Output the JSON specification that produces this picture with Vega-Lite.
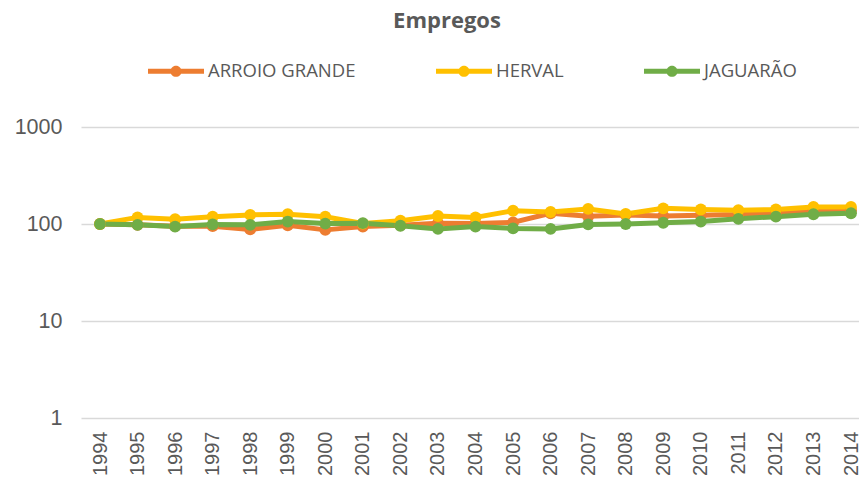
{
  "$schema": "https://vega.github.io/schema/vega-lite/v6.json",
  "width": 778,
  "height": 291,
  "autosize": {"type": "none"},
  "padding": {"left": 81, "top": 127, "right": 0, "bottom": 66},
  "background": "white",
  "title": {
    "text": "Empregos",
    "font": "Open Sans",
    "fontSize": 22,
    "fontWeight": "bold",
    "color": "#595959",
    "anchor": "middle",
    "dx": -23,
    "offset": 10
  },
  "config": {
    "view": {"stroke": null},
    "font": "Liberation Sans"
  },
  "data": {
    "values": [
      {"ano": 1994, "municipio": "ARROIO GRANDE", "empregos": 100},
      {"ano": 1995, "municipio": "ARROIO GRANDE", "empregos": 98},
      {"ano": 1996, "municipio": "ARROIO GRANDE", "empregos": 95},
      {"ano": 1997, "municipio": "ARROIO GRANDE", "empregos": 95},
      {"ano": 1998, "municipio": "ARROIO GRANDE", "empregos": 88},
      {"ano": 1999, "municipio": "ARROIO GRANDE", "empregos": 97},
      {"ano": 2000, "municipio": "ARROIO GRANDE", "empregos": 87},
      {"ano": 2001, "municipio": "ARROIO GRANDE", "empregos": 94},
      {"ano": 2002, "municipio": "ARROIO GRANDE", "empregos": 97},
      {"ano": 2003, "municipio": "ARROIO GRANDE", "empregos": 102},
      {"ano": 2004, "municipio": "ARROIO GRANDE", "empregos": 101},
      {"ano": 2005, "municipio": "ARROIO GRANDE", "empregos": 104},
      {"ano": 2006, "municipio": "ARROIO GRANDE", "empregos": 129},
      {"ano": 2007, "municipio": "ARROIO GRANDE", "empregos": 120},
      {"ano": 2008, "municipio": "ARROIO GRANDE", "empregos": 124},
      {"ano": 2009, "municipio": "ARROIO GRANDE", "empregos": 121},
      {"ano": 2010, "municipio": "ARROIO GRANDE", "empregos": 123},
      {"ano": 2011, "municipio": "ARROIO GRANDE", "empregos": 125},
      {"ano": 2012, "municipio": "ARROIO GRANDE", "empregos": 130},
      {"ano": 2013, "municipio": "ARROIO GRANDE", "empregos": 135},
      {"ano": 2014, "municipio": "ARROIO GRANDE", "empregos": 138},
      {"ano": 1994, "municipio": "HERVAL", "empregos": 100},
      {"ano": 1995, "municipio": "HERVAL", "empregos": 117},
      {"ano": 1996, "municipio": "HERVAL", "empregos": 112},
      {"ano": 1997, "municipio": "HERVAL", "empregos": 119},
      {"ano": 1998, "municipio": "HERVAL", "empregos": 124},
      {"ano": 1999, "municipio": "HERVAL", "empregos": 126},
      {"ano": 2000, "municipio": "HERVAL", "empregos": 119},
      {"ano": 2001, "municipio": "HERVAL", "empregos": 101},
      {"ano": 2002, "municipio": "HERVAL", "empregos": 108},
      {"ano": 2003, "municipio": "HERVAL", "empregos": 121},
      {"ano": 2004, "municipio": "HERVAL", "empregos": 117},
      {"ano": 2005, "municipio": "HERVAL", "empregos": 137},
      {"ano": 2006, "municipio": "HERVAL", "empregos": 133},
      {"ano": 2007, "municipio": "HERVAL", "empregos": 143},
      {"ano": 2008, "municipio": "HERVAL", "empregos": 127},
      {"ano": 2009, "municipio": "HERVAL", "empregos": 145},
      {"ano": 2010, "municipio": "HERVAL", "empregos": 141},
      {"ano": 2011, "municipio": "HERVAL", "empregos": 139},
      {"ano": 2012, "municipio": "HERVAL", "empregos": 141},
      {"ano": 2013, "municipio": "HERVAL", "empregos": 150},
      {"ano": 2014, "municipio": "HERVAL", "empregos": 150},
      {"ano": 1994, "municipio": "JAGUARÃO", "empregos": 100},
      {"ano": 1995, "municipio": "JAGUARÃO", "empregos": 98},
      {"ano": 1996, "municipio": "JAGUARÃO", "empregos": 94},
      {"ano": 1997, "municipio": "JAGUARÃO", "empregos": 99},
      {"ano": 1998, "municipio": "JAGUARÃO", "empregos": 98},
      {"ano": 1999, "municipio": "JAGUARÃO", "empregos": 106},
      {"ano": 2000, "municipio": "JAGUARÃO", "empregos": 101},
      {"ano": 2001, "municipio": "JAGUARÃO", "empregos": 102},
      {"ano": 2002, "municipio": "JAGUARÃO", "empregos": 96},
      {"ano": 2003, "municipio": "JAGUARÃO", "empregos": 89},
      {"ano": 2004, "municipio": "JAGUARÃO", "empregos": 94},
      {"ano": 2005, "municipio": "JAGUARÃO", "empregos": 90},
      {"ano": 2006, "municipio": "JAGUARÃO", "empregos": 89},
      {"ano": 2007, "municipio": "JAGUARÃO", "empregos": 99},
      {"ano": 2008, "municipio": "JAGUARÃO", "empregos": 100},
      {"ano": 2009, "municipio": "JAGUARÃO", "empregos": 103},
      {"ano": 2010, "municipio": "JAGUARÃO", "empregos": 106},
      {"ano": 2011, "municipio": "JAGUARÃO", "empregos": 113},
      {"ano": 2012, "municipio": "JAGUARÃO", "empregos": 119},
      {"ano": 2013, "municipio": "JAGUARÃO", "empregos": 126},
      {"ano": 2014, "municipio": "JAGUARÃO", "empregos": 129}
    ]
  },
  "encoding": {
    "x": {
      "field": "ano",
      "type": "quantitative",
      "scale": {"domain": [1993.494, 2014.213], "nice": false, "zero": false},
      "axis": {
        "title": null,
        "values": [1994,1995,1996,1997,1998,1999,2000,2001,2002,2003,2004,2005,2006,2007,2008,2009,2010,2011,2012,2013,2014],
        "format": "d",
        "labelAngle": -90,
        "labelAlign": "right",
        "labelBaseline": "middle",
        "labelFontSize": 20,
        "labelColor": "#595959",
        "labelPadding": 13,
        "ticks": false,
        "domain": false,
        "grid": false,
        "labelFlush": false,
        "labelOverlap": false
      }
    },
    "y": {
      "field": "empregos",
      "type": "quantitative",
      "scale": {"type": "log", "domain": [1, 1000], "nice": false},
      "axis": {
        "title": null,
        "values": [1, 10, 100, 1000],
        "format": "d",
        "labelFontSize": 21.5,
        "labelColor": "#595959",
        "labelPadding": 19,
        "ticks": false,
        "domain": false,
        "grid": true,
        "gridColor": "#d9d9d9",
        "gridWidth": 1.5
      }
    },
    "color": {
      "field": "municipio",
      "type": "nominal",
      "scale": {
        "domain": ["ARROIO GRANDE", "HERVAL", "JAGUARÃO"],
        "range": ["#ED7D31", "#FFC000", "#70AD47"]
      },
      "legend": {
        "title": null,
        "orient": "none",
        "legendX": 67,
        "legendY": -84,
        "direction": "horizontal",
        "symbolType": "M-1,-0.09H1V0.09H-1Z M-0.2,0A0.2,0.2 0 1,1 0.2,0A0.2,0.2 0 1,1 -0.2,0Z",
        "symbolSize": 3136,
        "symbolStrokeWidth": 0,
        "labelFont": "Open Sans",
        "labelFontSize": 18.5,
        "labelColor": "#595959",
        "labelOffset": 4,
        "columnPadding": 80
      }
    }
  },
  "layer": [
    {
      "mark": {"type": "line", "strokeWidth": 5, "strokeJoin": "round", "strokeCap": "round"}
    },
    {
      "mark": {"type": "point", "filled": true, "size": 140, "opacity": 1}
    }
  ]
}
